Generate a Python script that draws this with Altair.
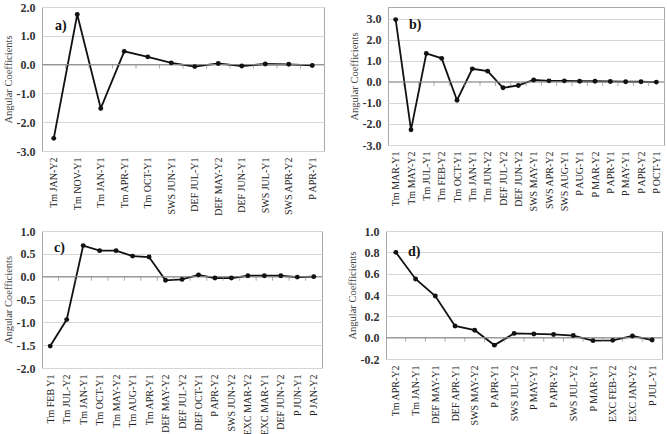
import altair as alt
import pandas as pd

FONT = "Liberation Serif"

labels_a = ["Tm JAN-Y2", "Tm NOV-Y1", "Tm JAN-Y1", "Tm APR-Y1", "Tm OCT-Y1", "SWS JUN-Y1",
            "DEF JUL-Y1", "DEF MAY-Y2", "DEF JUN-Y1", "SWS JUL-Y1", "SWS APR-Y2", "P APR-Y1"]
values_a = [-2.56, 1.74, -1.52, 0.46, 0.27, 0.06, -0.07, 0.04, -0.05, 0.02, 0.01, -0.03]

labels_b = ["Tm MAR-Y1", "Tm MAY-Y2", "Tm JUL-Y1", "Tm FEB-Y2", "Tm OCT-Y1", "Tm JAN-Y1",
            "Tm JUN-Y2", "DEF JUL-Y2", "DEF JUN-Y2", "SWS MAY-Y1", "SWS APR-Y2", "SWS AUG-Y1",
            "P AUG-Y1", "P MAR-Y2", "P APR-Y1", "P MAY-Y1", "P APR-Y2", "P OCT-Y1"]
values_b = [2.96, -2.28, 1.35, 1.12, -0.87, 0.62, 0.51, -0.28, -0.17, 0.09, 0.05, 0.05,
            0.03, 0.03, 0.02, 0.01, 0.01, -0.01]

labels_c = ["Tm FEB Y1", "Tm JUL-Y2", "Tm JAN-Y1", "Tm OCT-Y1", "Tm MAY-Y2", "Tm AUG-Y1",
            "Tm APR-Y1", "DEF MAY-Y2", "DEF JUL-Y2", "DEF OCT-Y1", "P APR-Y2", "SWS JUN-Y2",
            "EXC MAR-Y2", "EXC MAR-Y1", "DEF JUN-Y2", "P JUN-Y1", "P JAN-Y2"]
values_c = [-1.52, -0.94, 0.68, 0.57, 0.57, 0.45, 0.43, -0.08, -0.06, 0.04, -0.03, -0.03,
            0.02, 0.02, 0.02, -0.01, 0.0]

labels_d = ["Tm APR-Y2", "Tm JAN-Y1", "DEF MAY-Y1", "DEF APR-Y1", "SWS MAY-Y2", "P APR-Y1",
            "SWS JUL-Y2", "P MAY-Y1", "P APR-Y2", "SWS JUL-Y2", "P MAR-Y1", "EXC FEB-Y2",
            "EXC JAN-Y2", "P JUL-Y1"]
values_d = [0.80, 0.55, 0.39, 0.11, 0.07, -0.07, 0.04, 0.035, 0.03, 0.02, -0.028, -0.025,
            0.016, -0.022]

ticks_a = [-3, -2, -1, 0, 1, 2]
ticks_b = [-3, -2, -1, 0, 1, 2, 3]
ticks_c = [-2, -1.5, -1, -0.5, 0, 0.5, 1]
ticks_d = [-0.2, 0, 0.2, 0.4, 0.6, 0.8, 1.0]


def panel(labels, values, domain, ticks, w, h, tag, tag_x, tag_y):
    n = len(labels)
    df = pd.DataFrame({"i": list(range(n)), "v": values})
    arr = "[" + ",".join("'%s'" % s for s in labels) + "]"
    xs = alt.Scale(domain=[-0.5, n - 0.5], nice=False, zero=False)
    ys = alt.Scale(domain=domain, nice=False, zero=False)
    x = alt.X("i:Q", scale=xs, title=None,
              axis=alt.Axis(values=list(range(n)), labelExpr=arr + "[round(datum.value)]",
                            labelAngle=-90, labelFont=FONT, labelFontSize=10,
                            labelColor="#222", ticks=False, domain=False, grid=False,
                            labelOverlap=False, labelFlush=False, labelBound=False,
                            labelPadding=6))
    y = alt.Y("v:Q", scale=ys, title="Angular Coefficients",
              axis=alt.Axis(values=ticks,
                            labelExpr="(datum.value < -1e-9 ? '-' : '') + format(abs(datum.value), '.1f')",
                            labelFont=FONT, labelFontSize=12, labelFontWeight="bold",
                            labelColor="#333", ticks=False, domain=False, grid=True,
                            labelOverlap=False, labelFlush=False, labelBound=False,
                            gridColor="#d6d6d6", gridWidth=1, labelPadding=7,
                            titleFont=FONT, titleFontSize=10.5, titleFontWeight="normal",
                            titleColor="#444", titlePadding=3))
    base = alt.Chart(df)
    line = base.mark_line(color="#111", strokeWidth=1.8).encode(x=x, y=y)
    pts = base.mark_point(filled=True, color="#111", size=24, opacity=1).encode(x=x, y=y)
    zero = alt.Chart(pd.DataFrame({"v": [0]})).mark_rule(color="#8a8a8a", strokeWidth=1).encode(y=y)
    bnd = pd.DataFrame({"i": [k + 0.5 for k in range(n - 1)], "v": [0] * (n - 1)})
    tks = alt.Chart(bnd).mark_tick(orient="vertical", color="#8a8a8a", size=4, thickness=1,
                                   yOffset=2).encode(x=x, y=y)
    lab = alt.Chart(pd.DataFrame({"t": [tag]})).mark_text(
        font=FONT, fontSize=14, fontWeight="bold", color="#111", align="left", baseline="middle"
    ).encode(x=alt.value(tag_x), y=alt.value(tag_y), text="t:N")
    return alt.layer(line, zero, tks, pts, lab).properties(width=w, height=h)


a = panel(labels_a, values_a, [-3, 2], ticks_a, 282, 144, "a)", 13, 19)
b = panel(labels_b, values_b, [-3, 3.56], ticks_b, 276, 138, "b)", 21, 18)
c = panel(labels_c, values_c, [-2, 1], ticks_c, 280, 137, "c)", 12, 17)
d = panel(labels_d, values_d, [-0.2, 1], ticks_d, 276, 128, "d)", 22, 21)

top = alt.hconcat(a, b, spacing=23)
bottom = alt.hconcat(c, d, spacing=23)
chart = alt.vconcat(top, bottom, spacing=8).properties(
    padding={"left": 2, "top": 0, "right": 0, "bottom": 0},
    background="white",
).configure_view(stroke="#a8a8a8", strokeWidth=1)

chart.save("out.html", embed_options={"renderer": "svg", "actions": False})
